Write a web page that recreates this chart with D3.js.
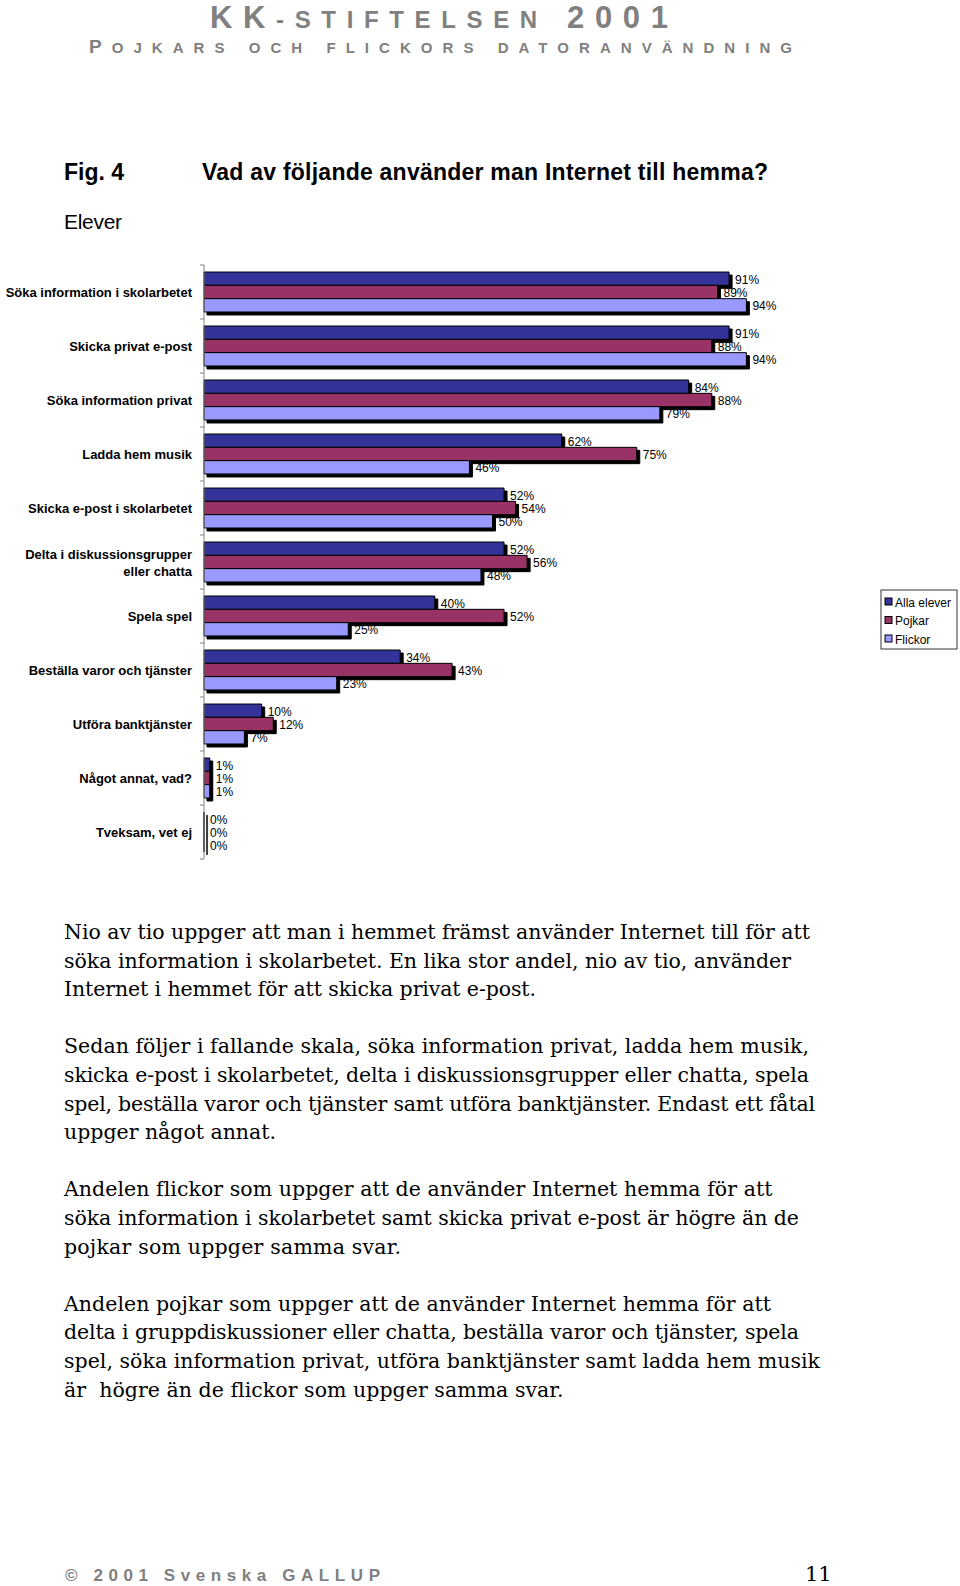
<!DOCTYPE html>
<html>
<head>
<meta charset="utf-8">
<script src="https://cdn.jsdelivr.net/npm/d3@7"></script>
<style>
  html, body { margin: 0; padding: 0; background: #fff; }
  svg { display: block; }
</style>
</head>
<body>
<div id="chart"></div>
<script>
// ---------------- DATA ----------------
const categories = [
  "Söka information i skolarbetet",
  "Skicka privat e-post",
  "Söka information privat",
  "Ladda hem musik",
  "Skicka e-post i skolarbetet",
  "Delta i diskussionsgrupper\neller chatta",
  "Spela spel",
  "Beställa varor och tjänster",
  "Utföra banktjänster",
  "Något annat, vad?",
  "Tveksam, vet ej"
];
const seriesNames = ["Alla elever", "Pojkar", "Flickor"];
const allaElever = [91, 91, 84, 62, 52, 52, 40, 34, 10, 1, 0];
const pojkar     = [89, 88, 88, 75, 54, 56, 52, 43, 12, 1, 0];
const flickor    = [94, 94, 79, 46, 50, 48, 25, 23, 7, 1, 0];

const headerTitle = ["KK", "-STIFTELSEN", " 2001"];
const headerSub = ["P", "OJKARS OCH FLICKORS DATORANVÄNDNING"];
const figLabel = "Fig. 4";
const figTitle = "Vad av följande använder man Internet till hemma?";
const subTitle = "Elever";
const bodyParagraphs = [
  ["Nio av tio uppger att man i hemmet främst använder Internet till för att",
   "söka information i skolarbetet. En lika stor andel, nio av tio, använder",
   "Internet i hemmet för att skicka privat e-post."],
  ["Sedan följer i fallande skala, söka information privat, ladda hem musik,",
   "skicka e-post i skolarbetet, delta i diskussionsgrupper eller chatta, spela",
   "spel, beställa varor och tjänster samt utföra banktjänster. Endast ett fåtal",
   "uppger något annat."],
  ["Andelen flickor som uppger att de använder Internet hemma för att",
   "söka information i skolarbetet samt skicka privat e-post är högre än de",
   "pojkar som uppger samma svar."],
  ["Andelen pojkar som uppger att de använder Internet hemma för att",
   "delta i gruppdiskussioner eller chatta, beställa varor och tjänster, spela",
   "spel, söka information privat, utföra banktjänster samt ladda hem musik",
   "är  högre än de flickor som uppger samma svar."]
];
const footerText = "© 2001 Svenska GALLUP";
const pageNumber = "11";

// ---------------- LAYOUT / STYLE ----------------
const seriesValues = [allaElever, pojkar, flickor];
const seriesColors = ["#333399", "#993366", "#9999FF"];
const bodyLineEnds = [[810, 791, 536], [809, 809, 815, 276], [772, 799, 401], [771, 799, 820, 563]];
const W = 960, H = 1586;
const sans = "'Liberation Sans', Arial, Helvetica, sans-serif";
const serif = "'DejaVu Serif', 'Liberation Serif', serif";
const grey = "#808080";

const svg = d3.select("#chart").append("svg")
  .attr("width", W).attr("height", H)
  .attr("viewBox", `0 0 ${W} ${H}`);

// fit a text element to a target width via letter-spacing
function fit(sel, target) {
  const node = sel.node();
  const w = node.getComputedTextLength();
  const n = node.textContent.length;
  if (n > 1) sel.attr("letter-spacing", (target - w) / (n - 1));
}

// ---------------- HEADER ----------------
const h1 = svg.append("text").attr("x", 210).attr("y", 28)
  .attr("font-family", sans).attr("font-weight", "bold").attr("fill", grey);
h1.append("tspan").attr("font-size", 31).text(headerTitle[0]);
h1.append("tspan").attr("font-size", 24).text(headerTitle[1]);
h1.append("tspan").attr("font-size", 31).text(headerTitle[2]);
fit(h1, 458);

const h2 = svg.append("text").attr("x", 89).attr("y", 53)
  .attr("font-family", sans).attr("font-weight", "bold").attr("fill", grey);
h2.append("tspan").attr("font-size", 19).text(headerSub[0]);
h2.append("tspan").attr("font-size", 15).text(headerSub[1]);
fit(h2, 703);

// ---------------- FIGURE TITLE ----------------
const fl = svg.append("text").attr("x", 64).attr("y", 180)
  .attr("font-family", sans).attr("font-weight", "bold").attr("font-size", 23)
  .attr("fill", "#000").text(figLabel);
fit(fl, 60);
const ft = svg.append("text").attr("x", 202).attr("y", 180)
  .attr("font-family", sans).attr("font-weight", "bold").attr("font-size", 23)
  .attr("fill", "#000").text(figTitle);
fit(ft, 566);
const st = svg.append("text").attr("x", 64).attr("y", 229)
  .attr("font-family", sans).attr("font-size", 21)
  .attr("fill", "#000").text(subTitle);
fit(st, 58);

// ---------------- CHART ----------------
const x = d3.scaleLinear().domain([0, 100]).range([204, 781]);
const y = d3.scaleBand().domain(categories).range([265, 859])
  .paddingInner(0.26).paddingOuter(0.13);
const ys = d3.scaleBand().domain(seriesNames).range([0, y.bandwidth()]);

const plot = svg.append("g");
const shadowOff = 3;

const barData = [];
categories.forEach((c, i) => {
  seriesNames.forEach((s, j) => {
    barData.push({ cat: c, series: s, value: seriesValues[j][i], color: seriesColors[j] });
  });
});

function barPath(x0, y0, w, h) {
  return `M${x0},${y0}h${w}v${h}h${-w}Z`;
}

const barG = plot.selectAll("g.bar").data(barData).enter().append("g").attr("class", "bar");
barG.append("path")
  .attr("d", d => barPath(x(0) + shadowOff, y(d.cat) + ys(d.series) + shadowOff,
                          x(d.value) - x(0), ys.bandwidth()))
  .attr("fill", "#000").attr("stroke", "#000").attr("stroke-width", 1);
barG.append("path")
  .attr("d", d => barPath(x(0), y(d.cat) + ys(d.series),
                          x(d.value) - x(0), ys.bandwidth()))
  .attr("fill", d => d.color).attr("stroke", "#000").attr("stroke-width", 1);

// value labels
plot.selectAll("text.val").data(barData).enter().append("text")
  .attr("class", "val")
  .attr("x", d => x(d.value) + shadowOff + 3)
  .attr("y", d => y(d.cat) + ys(d.series) + ys.bandwidth() / 2 + 5)
  .attr("font-family", sans).attr("font-size", 12).attr("fill", "#000")
  .text(d => d.value + "%");

// category axis
const axisG = svg.append("g");
axisG.append("line")
  .attr("x1", x(0)).attr("x2", x(0))
  .attr("y1", y.range()[0]).attr("y2", y.range()[1])
  .attr("stroke", grey).attr("stroke-width", 1);
const bounds = d3.range(categories.length + 1).map(i => y.range()[0] + i * y.step());
axisG.selectAll("line.tick").data(bounds).enter().append("line")
  .attr("class", "tick")
  .attr("x1", x(0) - 4).attr("x2", x(0))
  .attr("y1", d => d).attr("y2", d => d)
  .attr("stroke", grey).attr("stroke-width", 1);

const catLabels = axisG.selectAll("text.cat").data(categories).enter().append("text")
  .attr("class", "cat")
  .attr("text-anchor", "end")
  .attr("font-family", sans).attr("font-weight", "bold").attr("font-size", 13)
  .attr("fill", "#000");
catLabels.each(function (d) {
  const lines = d.split("\n");
  const cy = y(d) + y.bandwidth() / 2;
  const lh = 17;
  const t = d3.select(this);
  lines.forEach((ln, k) => {
    t.append("tspan").attr("x", 192)
      .attr("y", cy + 5 + (k - (lines.length - 1) / 2) * lh)
      .text(ln);
  });
});

// legend
const lg = svg.append("g");
lg.append("rect").attr("x", 881).attr("y", 590).attr("width", 76).attr("height", 59)
  .attr("fill", "#fff").attr("stroke", "#000").attr("stroke-width", 0.8);
seriesNames.forEach((s, j) => {
  const cy = 602 + j * 18.5;
  lg.append("rect").attr("x", 885).attr("y", cy - 4).attr("width", 7).attr("height", 7)
    .attr("fill", seriesColors[j]).attr("stroke", "#000").attr("stroke-width", 1);
  lg.append("text").attr("x", 895).attr("y", cy + 4.5)
    .attr("font-family", sans).attr("font-size", 12).attr("fill", "#000").text(s);
});

// ---------------- BODY TEXT ----------------
let lineIdx = 0;
bodyParagraphs.forEach((para, p) => {
  para.forEach((ln, k) => {
    const t = svg.append("text").attr("x", 64).attr("y", 939 + lineIdx * 28.6)
      .attr("font-family", serif).attr("font-size", 20.5).attr("fill", "#000")
      .style("white-space", "pre")
      .text(ln);
    fit(t, bodyLineEnds[p][k] - 64);
    lineIdx++;
  });
  lineIdx++;
});

// ---------------- FOOTER ----------------
const fo = svg.append("text").attr("x", 65).attr("y", 1581)
  .attr("font-family", sans).attr("font-weight", "bold").attr("font-size", 17)
  .attr("fill", grey).text(footerText);
fit(fo, 315);
svg.append("text").attr("x", 805).attr("y", 1581)
  .attr("font-family", serif).attr("font-size", 21).attr("fill", "#000")
  .text(pageNumber);
</script>
</body>
</html>
